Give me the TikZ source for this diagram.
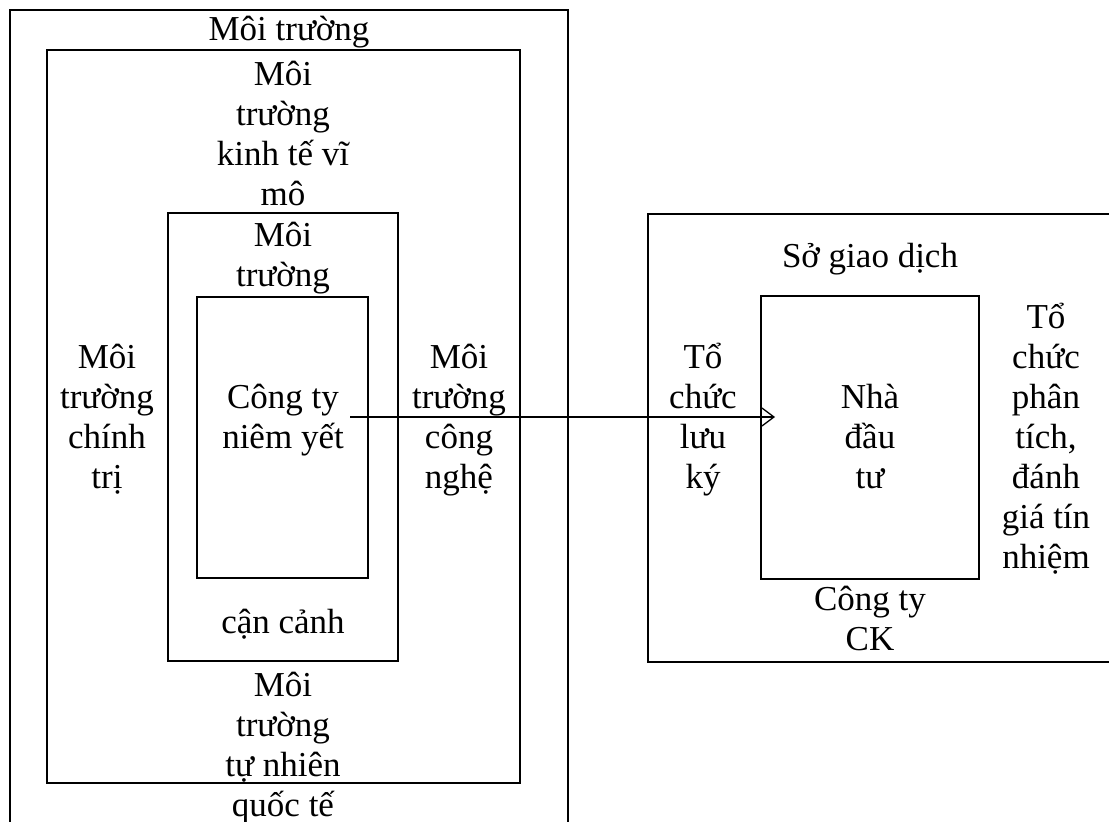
\documentclass[tikz,border=0pt]{standalone}
\usepackage{fontspec}
\setmainfont{Liberation Serif}
\usetikzlibrary{arrows.meta,positioning}

\tikzset{
  txt/.style={align=center, inner sep=0pt, anchor=base, font=\fontsize{35}{40}\selectfont},
  box/.style={draw, line width=2pt},
}

\begin{document}
\begin{tikzpicture}[x=1pt,y=-1pt]
    \useasboundingbox (0,0) rectangle (1109,822);
    \clip (0,0) rectangle (1109,822);

    % Nested environment boxes
    \draw[box] (10,10) rectangle (568,850);
    \draw[box] (47,50) rectangle (520,783);
    \draw[box] (168,213) rectangle (398,661);
    \draw[box] (197,297) rectangle (368,578);

    % Market boxes
    \draw[box] (648,214) rectangle (1130,662);
    \draw[box] (761,296) rectangle (979,579);

    % Environment labels (placed at the baseline of their last line)
    \node[txt] (env) at (289,40) {Môi trường};
    \node[txt] (macro) at (283,205) {Môi\\trường\\kinh tế vĩ\\mô};
    \node[txt] (nearA) at (283,286) {Môi\\trường};
    \node[txt] (nearB) at (283,633) {cận cảnh};
    \node[txt] (nature) at (283,816) {Môi\\trường\\tự nhiên\\quốc tế};
    \node[txt] (politics) at (107,488) {Môi\\trường\\chính\\trị};
    \node[txt] (tech) at (459,488) {Môi\\trường\\công\\nghệ};
    \node[txt] (listed) at (283,448) {Công ty\\niêm yết};

    % Market labels
    \node[txt] (exch) at (870,267) {Sở giao dịch};
    \node[txt] (custody) at (703,488) {Tổ\\chức\\lưu\\ký};
    \node[txt] (investor) at (870,488) {Nhà\\đầu\\tư};
    \node[txt] (rating) at (1046,568) {Tổ\\chức\\phân\\tích,\\đánh\\giá tín\\nhiệm};
    \node[txt] (broker) at (870,650) {Công ty\\CK};

    % Link from listed company to investor
    \coordinate (linkA) at (350,417);
    \coordinate (linkB) at (775,417);
    \draw[-{Straight Barb[length=12pt,width=18pt]}, line width=1.3pt] (linkA) -- (linkB);
\end{tikzpicture}
\end{document}
